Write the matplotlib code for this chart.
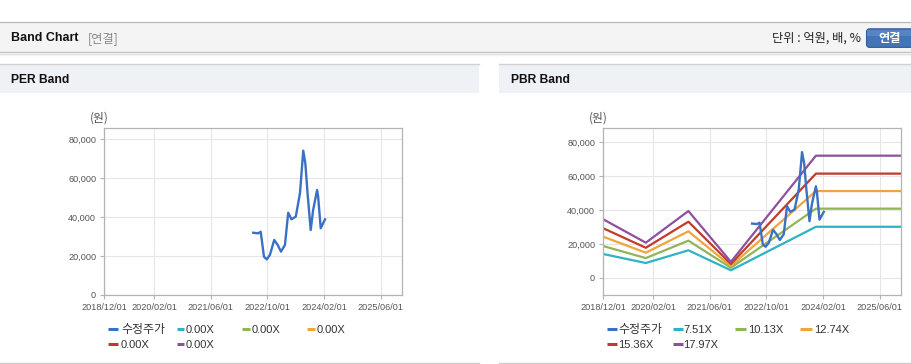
import numpy as np
import matplotlib
matplotlib.use("Agg")
import matplotlib.pyplot as plt
from matplotlib.patches import Rectangle, FancyBboxPatch

# ---------------- data ----------------
price_dates = ["2022-06-01", "2022-07-13", "2022-08-04", "2022-09-01", "2022-09-25",
               "2022-10-22", "2022-11-28", "2022-12-28", "2023-01-25", "2023-02-28",
               "2023-03-28", "2023-04-25", "2023-06-01", "2023-07-07", "2023-08-04",
               "2023-08-22", "2023-09-10", "2023-10-07", "2023-10-28", "2023-12-01",
               "2023-12-10", "2024-01-01", "2024-02-07"]
price_values = [32000, 31700, 32500, 19700, 18300,
                20600, 28300, 25700, 22300, 25700,
                42300, 38900, 40300, 52300, 74200,
                67700, 52300, 33400, 43700, 54000,
                50500, 34300, 38900]

band_dates = ["2018-12-01", "2019-12-01", "2020-12-01", "2021-12-01", "2023-12-01", "2025-12-01"]
band_751 = [14000, 8700, 16200, 4400, 30100, 30100]
band_1013 = [18700, 11600, 21900, 5900, 40800, 40800]
band_1274 = [24200, 14800, 27400, 6900, 51200, 51200]
band_1536 = [29200, 17700, 33100, 8100, 61500, 61500]
band_1797 = [34500, 20700, 39400, 9400, 72100, 72100]

per_labels = ["수정주가", "0.00X", "0.00X", "0.00X", "0.00X", "0.00X"]
pbr_labels = ["수정주가", "7.51X", "10.13X", "12.74X", "15.36X", "17.97X"]

x_ticks = ["2018-12-01", "2020-02-01", "2021-06-01", "2022-10-01", "2024-02-01", "2025-06-01"]
x_tick_labels = ["2018/12/01", "2020/02/01", "2021/06/01", "2022/10/01", "2024/02/01", "2025/06/01"]
y_ticks = [0, 20000, 40000, 60000, 80000]
y_tick_labels = ["0", "20,000", "40,000", "60,000", "80,000"]

# ---------------- style ----------------
W, H = 912, 364
C_PRICE = "#3b71c4"
C_BANDS = ["#2eb3c6", "#8fb556", "#f0a53c", "#c23a2c", "#8e509f"]
LAT = ["Liberation Sans", "Noto Sans CJK KR"]
KR = ["Noto Sans CJK KR", "DejaVu Sans"]

fig = plt.figure(figsize=(W / 100, H / 100), dpi=100)
fig.patch.set_facecolor("white")

bg = fig.add_axes([0, 0, 1, 1])
bg.set_xlim(0, W)
bg.set_ylim(H, 0)
bg.axis("off")

# header bar
bg.add_patch(Rectangle((0, 22), W, 30, facecolor="#f4f4f4", edgecolor="none"))
bg.plot([0, W], [22, 22], color="#b8b8b8", lw=0.9)
bg.plot([0, W], [52.3, 52.3], color="#c4c4c4", lw=1.0)
bg.plot([0, W], [53.5, 53.5], color="#e2e2e2", lw=1.0)
bg.plot([0, W], [54.6, 54.6], color="#f2f2f2", lw=1.0)
bg.text(11, 38, "Band Chart", fontsize=9, fontweight="bold", family=LAT,
        color="#111111", va="center", ha="left")
bg.text(87.5, 38.5, "[연결]", fontsize=8.8, family=KR, color="#888888", va="center", ha="left")
bg.text(861, 38.5, "단위 : 억원, 배, %", fontsize=8.8, family=KR, color="#222222",
        va="center", ha="right")
bg.add_patch(FancyBboxPatch((866.5, 28.8), 50, 18.6, boxstyle="round,pad=0,rounding_size=3",
                            facecolor="#4374b5", edgecolor="#355f98", lw=0.8))
bg.add_patch(Rectangle((867.5, 29.5), 48, 6, facecolor="#5585c2", edgecolor="none"))
bg.text(890, 38.3, "연결", fontsize=8.8, family=KR, fontweight="bold", color="white",
        va="center", ha="center")

# panel title bars
for x0, x1, title in [(0, 479.5, "PER Band"), (499.5, W, "PBR Band")]:
    bg.add_patch(Rectangle((x0, 64), x1 - x0, 28.8, facecolor="#eef1f6", edgecolor="none"))
    bg.plot([x0, x1], [64, 64], color="#d2d2d2", lw=1.0)
    bg.plot([x0, x1], [363, 363], color="#cfcfcf", lw=1.0)
    bg.text(x0 + 11.5, 80, title, fontsize=8.7, fontweight="bold", family=LAT,
            color="#111111", va="center", ha="left")

dt = lambda s: np.array(s, dtype="datetime64[D]")
px = np.array(price_dates, dtype="datetime64[D]")
bx = np.array(band_dates, dtype="datetime64[D]")
bands = [band_751, band_1013, band_1274, band_1536, band_1797]


def make_axes(left, right, top, bottom, ylim, show_bands):
    ax = fig.add_axes([left / W, 1 - bottom / H, (right - left) / W, (bottom - top) / H])
    ax.set_facecolor("white")
    ax.set_xlim(dt("2018-12-01"), dt("2025-12-01"))
    ax.set_ylim(*ylim)
    ax.set_xticks(np.array(x_ticks, dtype="datetime64[D]"))
    ax.set_xticklabels(x_tick_labels)
    ax.set_yticks(y_ticks)
    ax.set_yticklabels(y_tick_labels)
    ax.grid(True, color="#e6e6e6", lw=0.8)
    ax.set_axisbelow(True)
    for s in ax.spines.values():
        s.set_color("#b3b3b3")
        s.set_linewidth(0.9)
    ax.tick_params(axis="both", colors="#b3b3b3", length=3.2, width=0.8,
                   labelcolor="#555555", labelsize=6.6, pad=2.6)
    for lab in ax.get_xticklabels() + ax.get_yticklabels():
        lab.set_family(LAT)
    if show_bands:
        for vals, c in zip(bands, C_BANDS):
            ax.plot(bx, vals, color=c, lw=1.6, solid_joinstyle="round", zorder=2)
    ax.plot(px, price_values, color=C_PRICE, lw=1.7, solid_joinstyle="round", zorder=3)
    return ax


ax1 = make_axes(104.3, 402.3, 128.3, 295, (0, 85700), False)
ax2 = make_axes(603.3, 901, 128.3, 295, (-10200, 88270), True)

bg.text(99, 118, "(원)", fontsize=8.5, family=KR, color="#555555", va="center", ha="center")
bg.text(598, 118, "(원)", fontsize=8.5, family=KR, color="#555555", va="center", ha="center")

# legends
colors = [C_PRICE] + C_BANDS
per_pos = [(107.7, 118.3, 121, 329.3), (176.7, 184.5, 186, 329.3), (241.7, 250, 251.5, 329.3),
           (306.7, 315, 316.5, 329.3), (107.7, 118.3, 121, 344.3), (176.7, 184.5, 186, 344.3)]
pbr_pos = [(606.7, 616.7, 618.3, 329.3), (672.7, 682.7, 683.3, 329.3), (735, 746.5, 748.5, 329.3),
           (800, 812.5, 814.5, 329.3), (606.7, 616.7, 618.3, 344.3), (672.7, 682.7, 683.3, 344.3)]
for labels, pos in [(per_labels, per_pos), (pbr_labels, pbr_pos)]:
    for lab, c, (m0, m1, tx, ty) in zip(labels, colors, pos):
        bg.plot([m0, m1], [ty, ty], color=c, lw=2.2, solid_capstyle="butt")
        fam = KR if lab == "수정주가" else LAT
        fs = 8.6 if lab == "수정주가" else 8.0
        bg.text(tx, ty + 0.3, lab, fontsize=fs, family=fam, color="#333333",
                va="center", ha="left")

fig.savefig("out.png", dpi=100, facecolor="white")
